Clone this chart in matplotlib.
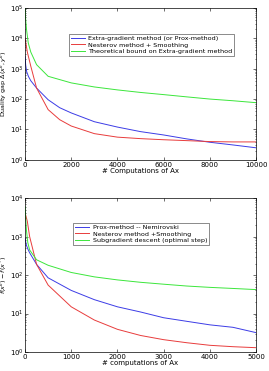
import matplotlib
matplotlib.use("Agg")
import matplotlib.pyplot as plt
import numpy as np

# --- Top panel data (duality gap vs # computations of Ax) ---
top_x_blue = [0, 30, 70, 150, 250, 500, 1000, 1500, 2000, 3000, 4000, 5000, 6000, 7000, 8000, 9000, 10000]
top_blue = [2500, 1300, 800, 550, 400, 230, 95, 52, 35, 18, 12, 8.5, 6.6, 4.9, 3.8, 3.1, 2.5]
top_x_red = [0, 50, 100, 250, 500, 1000, 1500, 2000, 3000, 4000, 5000, 6000, 7000, 8000, 9000, 10000]
top_red = [10000, 6000, 3500, 1200, 230, 45, 21, 13, 7.3, 5.6, 5.0, 4.6, 4.3, 4.0, 3.9, 3.9]
top_x_green = [0, 30, 70, 140, 250, 500, 1000, 2000, 3000, 4000, 5000, 6000, 7000, 8000, 9000, 10000]
top_green = [100000, 40000, 18000, 7000, 3500, 1350, 560, 340, 250, 200, 165, 140, 118, 100, 88, 76]
top_labels = ["Extra-gradient method (or Prox-method)", "Nesterov method + Smoothing",
              "Theoretical bound on Extra-gradient method"]

# --- Bottom panel data (f(x^k)-f(x*) vs # computations of Ax) ---
bot_x_blue = [0, 30, 60, 100, 250, 500, 1000, 1500, 2000, 2500, 3000, 3500, 4000, 4500, 5000]
bot_blue = [900, 600, 480, 380, 190, 85, 40, 23, 15, 11, 7.8, 6.3, 5.1, 4.4, 3.2]
bot_x_red = [0, 50, 100, 250, 500, 1000, 1500, 2000, 2500, 3000, 3500, 4000, 4500, 5000]
bot_red = [4200, 2500, 1000, 190, 55, 15, 6.8, 3.9, 2.7, 2.1, 1.75, 1.5, 1.38, 1.3]
bot_x_green = [0, 30, 60, 100, 250, 500, 1000, 1500, 2000, 2500, 3000, 3500, 4000, 4500, 5000]
bot_green = [6000, 1500, 700, 450, 250, 180, 117, 90, 75, 65, 58, 52, 48, 45, 42]
bot_labels = ["Prox-method -- Nemirovski", "Nesterov method +Smoothing",
              "Subgradient descent (optimal step)"]

BLUE = "#3c3ce6"
RED = "#e83c3c"
GREEN = "#3ce63c"
FS = 5
LFS = 4.6

fig = plt.figure(figsize=(2.69, 3.71), dpi=100)
ax1 = fig.add_axes([0.093, 0.569, 0.859, 0.41])
ax2 = fig.add_axes([0.093, 0.051, 0.859, 0.415])

def style(ax):
    ax.set_yscale("log")
    ax.tick_params(direction="in", which="both", labelsize=FS, top=True, right=True,
                   length=2, width=0.4, pad=1.2)
    ax.tick_params(which="minor", length=1)
    for s in ax.spines.values():
        s.set_linewidth(0.5)

ax1.plot(top_x_blue, top_blue, color=BLUE, lw=0.7, label=top_labels[0])
ax1.plot(top_x_red, top_red, color=RED, lw=0.7, label=top_labels[1])
ax1.plot(top_x_green, top_green, color=GREEN, lw=0.7, label=top_labels[2])
style(ax1)
ax1.set_xlim(0, 10000)
ax1.set_ylim(1, 1e5)
ax1.set_xticks([0, 2000, 4000, 6000, 8000, 10000])
ax1.set_xlabel("# Computations of Ax", fontsize=FS, labelpad=0.5)
ax1.set_ylabel(r"Duality gap $\Delta(x^k,y^k)$", fontsize=4.6)
ax1.yaxis.set_label_coords(-0.068, 0.5)
leg1 = ax1.legend(loc="upper right", bbox_to_anchor=(0.92, 0.85), fontsize=LFS,
                  frameon=True, fancybox=False, edgecolor="black", borderpad=0.3,
                  handlelength=2.2, labelspacing=0.15, handletextpad=0.5)
leg1.get_frame().set_linewidth(0.4)

ax2.plot(bot_x_blue, bot_blue, color=BLUE, lw=0.7, label=bot_labels[0])
ax2.plot(bot_x_red, bot_red, color=RED, lw=0.7, label=bot_labels[1])
ax2.plot(bot_x_green, bot_green, color=GREEN, lw=0.7, label=bot_labels[2])
style(ax2)
ax2.set_xlim(0, 5000)
ax2.set_ylim(1, 1e4)
ax2.set_xticks([0, 1000, 2000, 3000, 4000, 5000])
ax2.set_xlabel("# computations of Ax", fontsize=FS, labelpad=0.5)
ax2.set_ylabel(r"$f(x^k)-f(x^*)$", fontsize=4.6)
ax2.yaxis.set_label_coords(-0.068, 0.5)
leg2 = ax2.legend(loc="upper right", bbox_to_anchor=(0.81, 0.86), fontsize=LFS,
                  frameon=True, fancybox=False, edgecolor="black", borderpad=0.3,
                  handlelength=2.2, labelspacing=0.15, handletextpad=0.5)
leg2.get_frame().set_linewidth(0.4)

fig.savefig("out.png", dpi=100)
